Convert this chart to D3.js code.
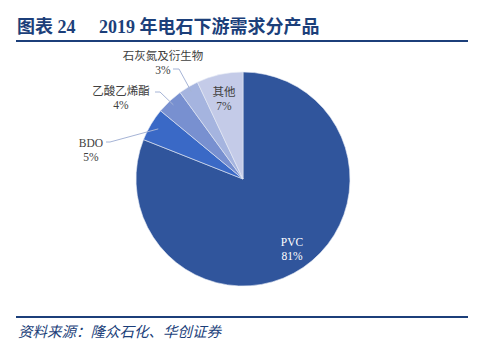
<!DOCTYPE html>
<html>
<head>
<meta charset="utf-8">
<script src="https://cdn.jsdelivr.net/npm/d3@7"></script>
<style>
  html, body { margin: 0; padding: 0; background: #fff; }
  svg { display: block; }
</style>
</head>
<body>
<svg id="chart" width="482" height="346"></svg>
<script>
// Downstream demand for calcium carbide by product, 2019 (share, %)
const categories = ["PVC", "BDO", "乙酸乙烯酯", "石灰氮及衍生物", "其他"];
const shares = [81, 5, 4, 3, 7];
const labels = ["81%", "5%", "4%", "3%", "7%"];
const colors = ["#30559c", "#3a69c6", "#7890d0", "#a5b4df", "#c4cbe8"];

const svg = d3.select("#chart");
const serif = "'Liberation Serif', 'Times New Roman', 'Noto Sans CJK SC', serif";

// Title and rules
const title = svg.append("text")
  .attr("y", 33)
  .attr("fill", "#1c3f7a")
  .attr("font-family", serif)
  .attr("font-weight", "bold")
  .attr("font-size", 18);
title.append("tspan").attr("x", 17).text("图表 24");
title.append("tspan").attr("x", 99).text("2019 年电石下游需求分产品");

svg.append("line")
  .attr("x1", 16).attr("x2", 468).attr("y1", 41).attr("y2", 41)
  .attr("stroke", "#1c3f7a").attr("stroke-width", 2.2);

svg.append("line")
  .attr("x1", 16).attr("x2", 468).attr("y1", 317).attr("y2", 317)
  .attr("stroke", "#1c3f7a").attr("stroke-width", 2.2);

svg.append("text")
  .attr("x", 18).attr("y", 337)
  .attr("fill", "#1c3f7a")
  .attr("font-family", "'Noto Sans CJK SC', sans-serif")
  .attr("font-style", "italic")
  .attr("font-size", 14.5)
  .text("资料来源：隆众石化、华创证券");

// Pie
const cx = 243, cy = 179, r = 107;
const g = svg.append("g").attr("transform", `translate(${cx},${cy})`);

const data = categories.map((c, i) => ({ name: c, value: shares[i], label: labels[i], color: colors[i] }));
const pie = d3.pie().value(d => d.value).sort(null);
const arcs = pie(data);
const arc = d3.arc().innerRadius(0).outerRadius(r);

g.selectAll("path.slice")
  .data(arcs)
  .join("path")
  .attr("class", "slice")
  .attr("d", arc)
  .attr("fill", d => d.data.color)
  .attr("stroke", "#e6ebf5")
  .attr("stroke-width", 0.6);

const textColor = "#404040";
function twoLine(x, y, a, b, fill, anchor) {
  const t = svg.append("text")
    .attr("font-family", serif)
    .attr("font-size", 11.5)
    .attr("fill", fill)
    .attr("text-anchor", anchor || "middle");
  t.append("tspan").attr("x", x).attr("y", y).text(a);
  t.append("tspan").attr("x", x).attr("y", y + 14).text(b);
}

// Point inside a slice along its bisector
const pointOn = (d, k) => {
  const a = (d.startAngle + d.endAngle) / 2;
  return [cx + Math.sin(a) * r * k, cy - Math.cos(a) * r * k];
};

// PVC inside
{
  const d = arcs[0];
  twoLine(292, 246, d.data.name, d.data.label, "#ffffff");
}
// 其他 inside
{
  const d = arcs[4];
  twoLine(224, 96, d.data.name, d.data.label, textColor);
}
// BDO outside with leader
{
  const d = arcs[1];
  const p = pointOn(d, 0.92);
  svg.append("polyline")
    .attr("points", `${106},${142} ${110},${142} ${p[0]},${p[1]}`)
    .attr("fill", "none").attr("stroke", "#a6b4d6").attr("stroke-width", 1);
  twoLine(91, 147, d.data.name, d.data.label, textColor);
}
// 乙酸乙烯酯 outside with leader
{
  const d = arcs[2];
  const p = pointOn(d, 0.95);
  svg.append("polyline")
    .attr("points", `${155},${92} ${160},${92} ${p[0]},${p[1]}`)
    .attr("fill", "none").attr("stroke", "#a6b4d6").attr("stroke-width", 1);
  twoLine(121, 95, d.data.name, d.data.label, textColor);
}
// 石灰氮及衍生物 outside with leader
{
  const d = arcs[3];
  const p = pointOn(d, 0.95);
  svg.append("polyline")
    .attr("points", `${173},${69} ${179},${69} ${p[0]},${p[1]}`)
    .attr("fill", "none").attr("stroke", "#a6b4d6").attr("stroke-width", 1);
  twoLine(163, 60, d.data.name, d.data.label, textColor);
}
</script>
</body>
</html>
